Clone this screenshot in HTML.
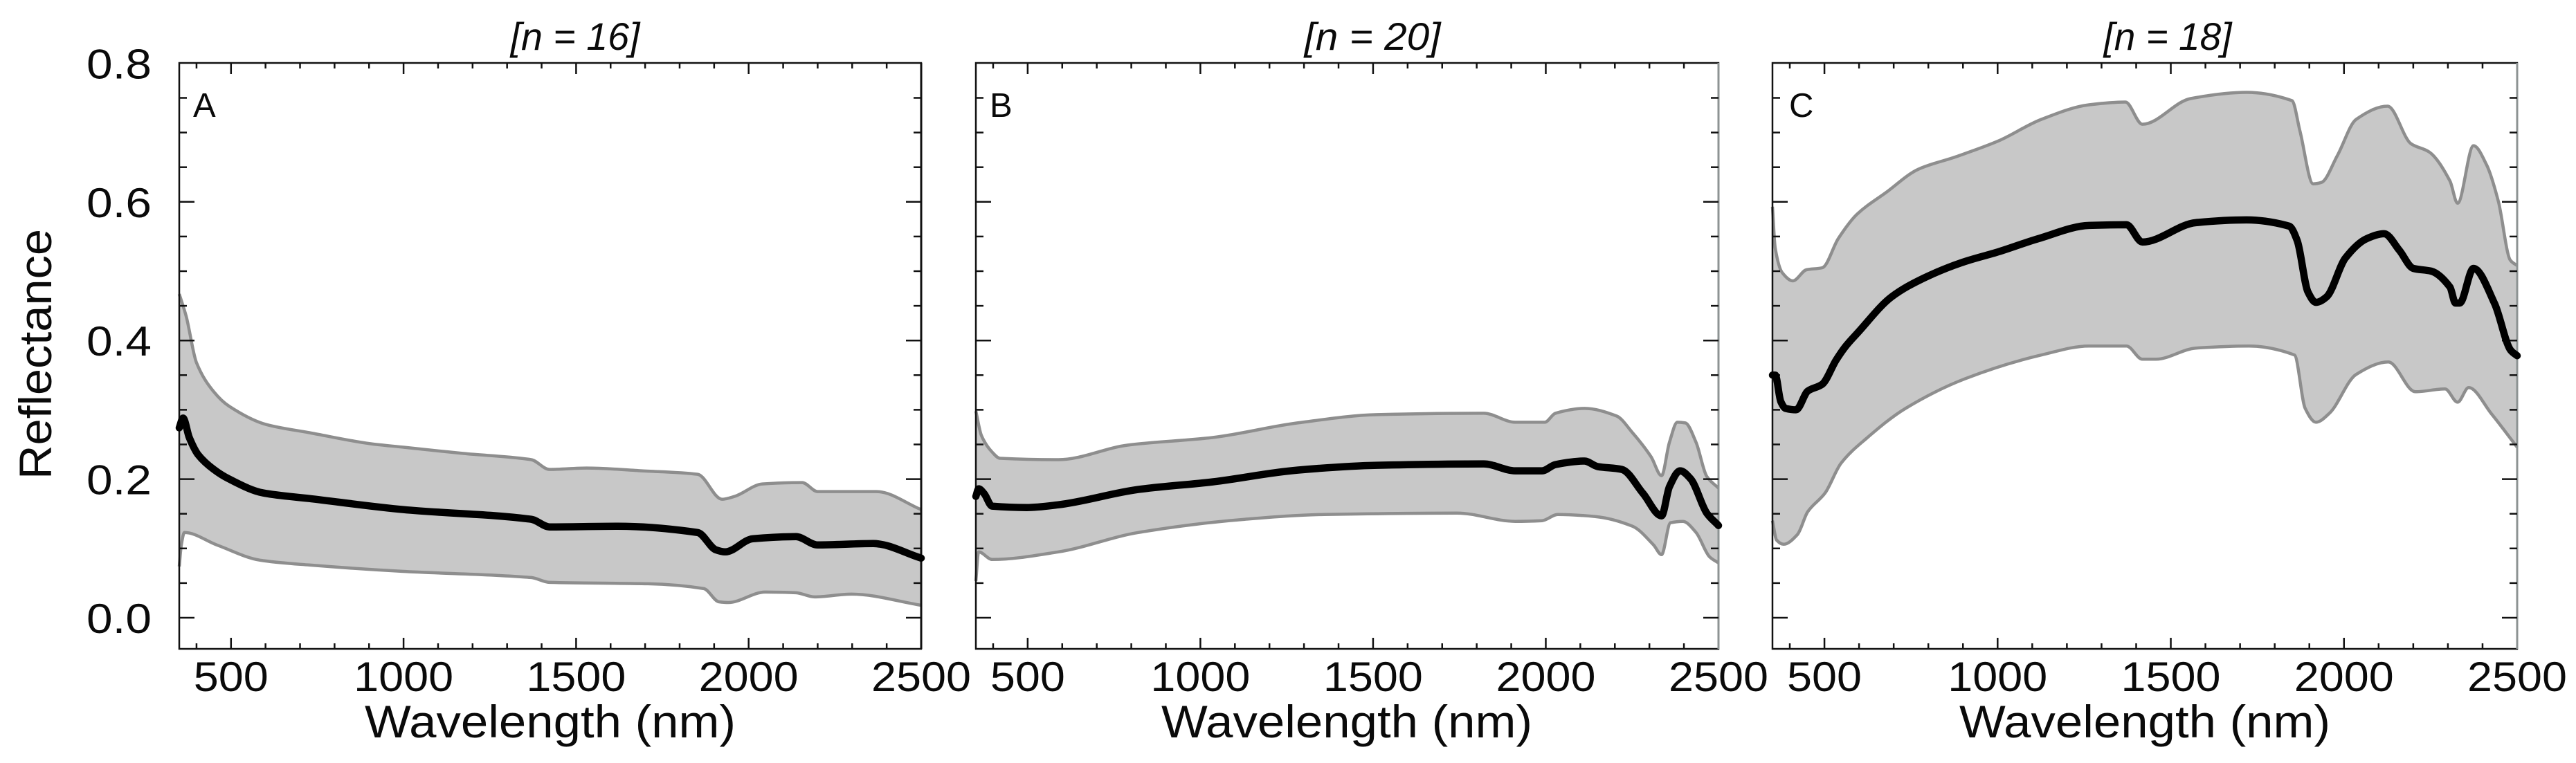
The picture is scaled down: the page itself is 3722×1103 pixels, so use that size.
<!DOCTYPE html>
<html lang="en">
<head>
<meta charset="utf-8">
<title>Reflectance spectra panels</title>
<style>
  html, body { margin: 0; padding: 0; background: #fff; }
  svg { display: block; }
  text { font-family: "Liberation Sans", sans-serif; fill: #0a0a0a; }
  .tick-label { font-size: 60px; }
  .axis-title { font-size: 66px; }
  .panel-title { font-size: 56px; font-style: italic; }
  .panel-letter { font-size: 49px; }
</style>
</head>
<body>
<svg id="chart" xmlns="http://www.w3.org/2000/svg" width="3722" height="1103" viewBox="0 0 3722 1103">
  <rect width="3722" height="1103" fill="#ffffff"/>
  <g id="plots"></g>

  <text class="panel-title" x="831" y="72" text-anchor="middle" textLength="187" lengthAdjust="spacingAndGlyphs">[n = 16]</text>
  <text class="panel-title" x="1983" y="72" text-anchor="middle" textLength="197" lengthAdjust="spacingAndGlyphs">[n = 20]</text>
  <text class="panel-title" x="3132" y="72" text-anchor="middle" textLength="185" lengthAdjust="spacingAndGlyphs">[n = 18]</text>

  <text class="panel-letter" x="279" y="169">A</text>
  <text class="panel-letter" x="1430" y="169">B</text>
  <text class="panel-letter" x="2585" y="169">C</text>

  <text class="axis-title" x="795" y="1066" text-anchor="middle" textLength="536" lengthAdjust="spacingAndGlyphs">Wavelength (nm)</text>
  <text class="axis-title" x="1946" y="1066" text-anchor="middle" textLength="536" lengthAdjust="spacingAndGlyphs">Wavelength (nm)</text>
  <text class="axis-title" x="3099" y="1066" text-anchor="middle" textLength="536" lengthAdjust="spacingAndGlyphs">Wavelength (nm)</text>

  <text class="axis-title" transform="translate(74 512) rotate(-90)" text-anchor="middle" textLength="362" lengthAdjust="spacingAndGlyphs">Reflectance</text>
</svg>

<script>
// ---- Axis tick data ----
const xMajorTicks = [500, 1000, 1500, 2000, 2500];
const xTickLabels = ["500", "1000", "1500", "2000", "2500"];
const xMinorTicks = [400, 600, 700, 800, 900, 1100, 1200, 1300, 1400, 1600, 1700, 1800, 1900, 2100, 2200, 2300, 2400];
const yMajorTicks = [0, 0.2, 0.4, 0.6, 0.8];
const yTickLabels = ["0.0", "0.2", "0.4", "0.6", "0.8"];
const yMinorTicks = [0.05, 0.1, 0.15, 0.25, 0.3, 0.35, 0.45, 0.5, 0.55, 0.65, 0.7, 0.75];

// ---- Panel A ----
const aUpperWave = [350, 370, 400, 450, 495, 600, 727, 905, 1000, 1173, 1370, 1423, 1530, 1690, 1852, 1923, 1959, 2040, 2155, 2200, 2370, 2500];
const aUpperRefl = [0.467, 0.435, 0.368, 0.326, 0.305, 0.279, 0.267, 0.251, 0.246, 0.237, 0.228, 0.214, 0.216, 0.212, 0.207, 0.171, 0.175, 0.193, 0.195, 0.182, 0.182, 0.156];
const aLowerWave = [350, 356, 365, 459, 584, 727, 995, 1370, 1423, 1709, 1870, 1914, 1941, 2048, 2137, 2191, 2298, 2500];
const aLowerRefl = [0.074, 0.105, 0.123, 0.105, 0.083, 0.076, 0.067, 0.058, 0.051, 0.049, 0.042, 0.023, 0.022, 0.037, 0.036, 0.030, 0.034, 0.018];
const aMeanWave = [350, 361, 379, 405, 450, 495, 593, 727, 1000, 1370, 1423, 1620, 1852, 1905, 1932, 2012, 2137, 2200, 2361, 2500];
const aMeanRefl = [0.274, 0.288, 0.260, 0.235, 0.214, 0.200, 0.180, 0.172, 0.156, 0.142, 0.131, 0.132, 0.123, 0.098, 0.095, 0.114, 0.117, 0.105, 0.107, 0.086];

// ---- Panel B ----
const bUpperWave = [350, 366, 397, 420, 589, 789, 1035, 1281, 1512, 1820, 1912, 1997, 2028, 2112, 2205, 2251, 2305, 2335, 2358, 2381, 2404, 2435, 2466, 2500];
const bUpperRefl = [0.298, 0.263, 0.239, 0.230, 0.228, 0.249, 0.260, 0.281, 0.293, 0.295, 0.282, 0.282, 0.295, 0.302, 0.291, 0.267, 0.232, 0.205, 0.253, 0.282, 0.281, 0.253, 0.204, 0.187];
const bLowerWave = [350, 358, 397, 589, 820, 1128, 1358, 1743, 1912, 1989, 2035, 2143, 2251, 2312, 2335, 2361, 2397, 2435, 2474, 2500];
const bLowerRefl = [0.053, 0.095, 0.084, 0.095, 0.123, 0.142, 0.149, 0.151, 0.139, 0.140, 0.149, 0.146, 0.132, 0.105, 0.091, 0.137, 0.139, 0.123, 0.088, 0.079];
const bMeanWave = [350, 358, 374, 397, 497, 589, 820, 1035, 1281, 1512, 1820, 1912, 1989, 2028, 2112, 2151, 2220, 2282, 2335, 2358, 2389, 2420, 2466, 2500];
const bMeanRefl = [0.175, 0.186, 0.179, 0.161, 0.159, 0.163, 0.185, 0.196, 0.213, 0.220, 0.222, 0.212, 0.212, 0.221, 0.226, 0.218, 0.214, 0.179, 0.147, 0.189, 0.212, 0.200, 0.151, 0.133];

// ---- Panel C ----
const cUpperWave = [350, 358, 378, 409, 448, 494, 540, 594, 679, 771, 879, 1003, 1126, 1264, 1369, 1418, 1557, 1719, 1850, 1873, 1911, 1935, 1981, 2035, 2126, 2193, 2246, 2306, 2328, 2374, 2412, 2446, 2480, 2500];
const cUpperRefl = [0.593, 0.533, 0.498, 0.486, 0.502, 0.505, 0.547, 0.582, 0.614, 0.647, 0.665, 0.688, 0.719, 0.740, 0.744, 0.712, 0.749, 0.758, 0.746, 0.702, 0.626, 0.628, 0.667, 0.719, 0.738, 0.684, 0.672, 0.630, 0.598, 0.681, 0.653, 0.600, 0.516, 0.508];
const cLowerWave = [350, 362, 382, 422, 452, 502, 548, 622, 734, 907, 1126, 1264, 1372, 1418, 1457, 1572, 1726, 1857, 1888, 1919, 1958, 2035, 2128, 2206, 2292, 2328, 2360, 2426, 2500];
const cLowerRefl = [0.140, 0.112, 0.106, 0.120, 0.153, 0.180, 0.223, 0.259, 0.302, 0.345, 0.379, 0.392, 0.392, 0.373, 0.373, 0.389, 0.392, 0.379, 0.302, 0.282, 0.295, 0.351, 0.369, 0.326, 0.330, 0.311, 0.332, 0.294, 0.246];
const cMeanWave = [350, 358, 374, 388, 418, 452, 494, 534, 562, 594, 694, 787, 894, 1003, 1118, 1264, 1372, 1418, 1572, 1719, 1842, 1865, 1896, 1919, 1950, 2004, 2066, 2116, 2160, 2200, 2252, 2306, 2322, 2334, 2374, 2435, 2481, 2500];
const cMeanRefl = [0.350, 0.350, 0.312, 0.302, 0.300, 0.327, 0.337, 0.372, 0.392, 0.410, 0.463, 0.490, 0.512, 0.528, 0.547, 0.566, 0.567, 0.542, 0.570, 0.574, 0.565, 0.544, 0.470, 0.455, 0.463, 0.519, 0.547, 0.554, 0.530, 0.504, 0.500, 0.477, 0.454, 0.454, 0.504, 0.453, 0.386, 0.378];

const SVG_NS = "http://www.w3.org/2000/svg";
const plots = document.getElementById("plots");

function make(tag, attrs, parent) {
  const el = document.createElementNS(SVG_NS, tag);
  for (const k in attrs) el.setAttribute(k, attrs[k]);
  parent.appendChild(el);
  return el;
}

function toPoints(waves, refl, sx, sy) {
  return waves.map((w, i) => [sx(w), sy(refl[i])]);
}

// Monotone cubic segments: no overshoot at dips and peaks.
function curveSegments(p) {
  const n = p.length, sec = [], m = [];
  for (let i = 0; i < n - 1; i++) sec.push((p[i + 1][1] - p[i][1]) / (p[i + 1][0] - p[i][0]));
  m.push(sec[0]);
  for (let i = 1; i < n - 1; i++) {
    m.push(sec[i - 1] * sec[i] <= 0 ? 0 : 2 * sec[i - 1] * sec[i] / (sec[i - 1] + sec[i]));
  }
  m.push(sec[n - 2]);
  let d = "";
  for (let i = 0; i < n - 1; i++) {
    const dx = (p[i + 1][0] - p[i][0]) / 3;
    d += "C" + (p[i][0] + dx).toFixed(1) + " " + (p[i][1] + m[i] * dx).toFixed(1) + " " +
         (p[i + 1][0] - dx).toFixed(1) + " " + (p[i + 1][1] - m[i + 1] * dx).toFixed(1) + " " +
         p[i + 1][0].toFixed(1) + " " + p[i + 1][1].toFixed(1);
  }
  return d;
}

function curvePath(p) {
  return "M" + p[0][0].toFixed(1) + " " + p[0][1].toFixed(1) + curveSegments(p);
}

const yPixelAtZero = 893, yPixelsPerUnit = 1002, plotTop = 91, plotBottom = 938;
const scaleY = v => yPixelAtZero - v * yPixelsPerUnit;

function drawPanel(key, left, right, upW, upR, loW, loR, meanW, meanR, showYLabels, rightEdgeColor) {
  const scaleX = w => left + (w - 350) * (right - left) / 2150;
  const g = make("g", {}, plots);
  
  

  const up = toPoints(upW, upR, scaleX, scaleY);
  const lo = toPoints(loW, loR, scaleX, scaleY);
  const loRev = lo.slice().reverse();

  const band = make("path", {
    d: curvePath(up) + "L" + loRev[0][0].toFixed(1) + " " + loRev[0][1].toFixed(1) + curveSegments(loRev) + "Z",
    fill: "#c8c8c8", stroke: "none"
  }, g);
  
  

  const upperEdge = make("path", { d: curvePath(up), fill: "none", stroke: "#8e8e8e", "stroke-width": 4.5 }, g);
  
  

  const lowerEdge = make("path", { d: curvePath(lo), fill: "none", stroke: "#8e8e8e", "stroke-width": 4.5 }, g);
  
  

  const axes = make("g", { stroke: "#111", "stroke-width": 2.5 }, g);
  
  

  const frame = make("rect", { x: left, y: plotTop, width: right - left, height: plotBottom - plotTop, fill: "none" }, axes);
  
  

  const rightEdge = make("line", { x1: right, x2: right, y1: plotTop, y2: plotBottom, stroke: rightEdgeColor, "stroke-width": 3 }, axes);
  
  

  xMajorTicks.forEach((w, i) => {
    const x = scaleX(w);
    if (w < 2500) {
      const t1 = make("line", { x1: x, x2: x, y1: plotTop, y2: plotTop + 16 }, axes);
      
      
      const t2 = make("line", { x1: x, x2: x, y1: plotBottom, y2: plotBottom - 16 }, axes);
      
      
    }
    const lab = make("text", { class: "tick-label", x: x, y: 999, "text-anchor": "middle", textLength: xTickLabels[i].length * 36, lengthAdjust: "spacingAndGlyphs" }, g);
    lab.textContent = xTickLabels[i];
    
    
  });

  xMinorTicks.forEach(w => {
    const x = scaleX(w);
    const t1 = make("line", { x1: x, x2: x, y1: plotTop, y2: plotTop + 8 }, axes);
    
    
    const t2 = make("line", { x1: x, x2: x, y1: plotBottom, y2: plotBottom - 8 }, axes);
    
    
  });

  yMajorTicks.forEach((v, i) => {
    const y = scaleY(v);
    if (v < 0.8) {
      const t1 = make("line", { x1: left, x2: left + 22, y1: y, y2: y }, axes);
      
      
      const t2 = make("line", { x1: right, x2: right - 22, y1: y, y2: y }, axes);
      
      
    }
    if (showYLabels) {
      const lab = make("text", { class: "tick-label", x: 219, y: y + 22, "text-anchor": "end", textLength: 94, lengthAdjust: "spacingAndGlyphs" }, g);
      lab.textContent = yTickLabels[i];
      
      
    }
  });

  yMinorTicks.forEach(v => {
    const y = scaleY(v);
    const t1 = make("line", { x1: left, x2: left + 11, y1: y, y2: y }, axes);
    
    
    const t2 = make("line", { x1: right, x2: right - 11, y1: y, y2: y }, axes);
    
    
  });

  const mean = make("path", {
    d: curvePath(toPoints(meanW, meanR, scaleX, scaleY)),
    fill: "none", stroke: "#000", "stroke-width": 10.5, "stroke-linecap": "round", "stroke-linejoin": "round"
  }, g);
  
  
}

drawPanel("a", 259, 1331, aUpperWave, aUpperRefl, aLowerWave, aLowerRefl, aMeanWave, aMeanRefl, true, "#111");
drawPanel("b", 1410, 2483, bUpperWave, bUpperRefl, bLowerWave, bLowerRefl, bMeanWave, bMeanRefl, false, "#8d9393");
drawPanel("c", 2561, 3637, cUpperWave, cUpperRefl, cLowerWave, cLowerRefl, cMeanWave, cMeanRefl, false, "#8d9393");
</script>
</body>
</html>
